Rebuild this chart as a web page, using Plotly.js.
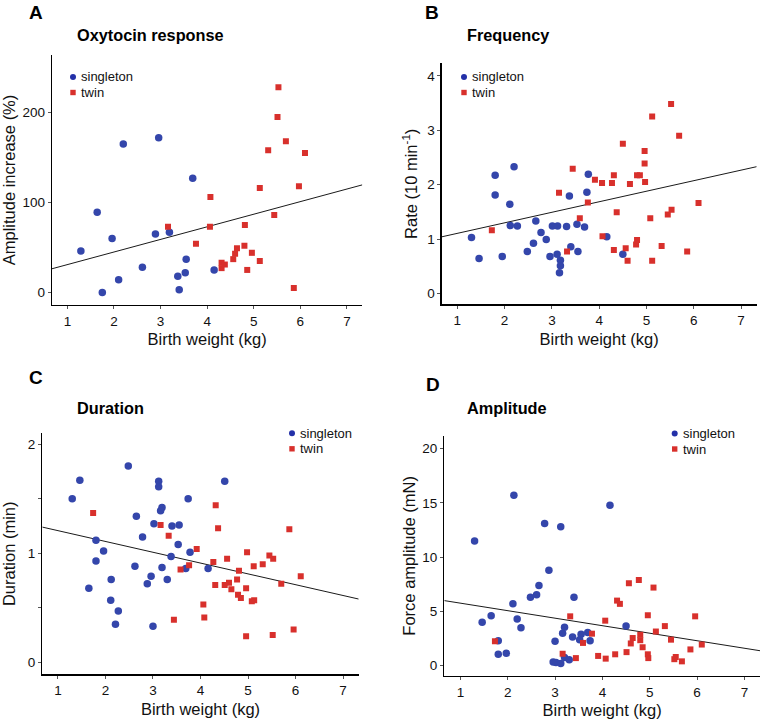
<!DOCTYPE html>
<html>
<head>
<meta charset="utf-8">
<script src="https://cdn.plot.ly/plotly-3.0.1.min.js"></script>
<style>html,body{margin:0;padding:0;background:#fff;}#chart{width:765px;height:725px;}</style>
</head>
<body>
<div id="chart"></div>
<script>
// ---------- DATA ----------
const panelLetters = ["A", "B", "C", "D"];
const panelTitles = ["Oxytocin response", "Frequency", "Duration", "Amplitude"];
const xAxisTitle = "Birth weight (kg)";
const yAxisTitles = ["Amplitude increase (%)", "Rate (10 min<sup>-1</sup>)", "Duration (min)", "Force amplitude (mN)"];
const groupNames = ["singleton", "twin"];
const xTickVals = [1, 2, 3, 4, 5, 6, 7];

// A: Oxytocin response
const aSingletonX = [1.29,1.64,1.75,1.96,2.10,2.20,2.61,2.89,2.96,3.19,3.37,3.40,3.53,3.55,3.69,4.15];
const aSingletonY = [46,89,0,60,14,165,28,65,172,67,18,3,22,37,127,25];
const aTwinX = [3.16,3.76,4.07,4.06,4.31,4.31,4.38,4.56,4.60,4.64,4.80,4.81,4.86,4.96,5.13,5.13,5.44,5.86,5.97,5.53,5.51,5.69,5.31,6.10];
const aTwinY = [73,54,106,73,33,27,31,37,43,49,52,75,25,44,116,35,86,5,118,228,195,168,158,155];
const aFitX = [0.67, 7.33];
const aFitY = [26.3, 119.6];
const aYTicks = [0, 100, 200];
const aYMinorTicks = [];

// B: Frequency
const bSingletonX = [1.30,1.46,1.80,1.80,1.95,2.11,2.12,2.20,2.27,2.48,2.61,2.66,2.77,2.88,2.96,3.01,3.12,3.11,3.18,3.18,3.16,3.31,3.37,3.40,3.53,3.55,3.69,3.74,3.77,4.16,4.50];
const bSingletonY = [1.03,0.64,2.17,1.81,0.68,1.64,1.25,2.33,1.24,0.77,0.92,1.33,1.12,0.99,0.68,1.24,1.24,0.72,0.61,0.51,0.38,1.23,1.79,0.86,1.27,0.77,1.22,1.86,2.19,1.04,0.72];
const bTwinX = [1.73,3.15,3.32,3.44,3.59,3.76,3.91,4.06,4.07,4.27,4.31,4.31,4.37,4.50,4.56,4.60,4.65,4.78,4.80,4.80,4.86,4.96,4.96,4.97,5.08,5.12,5.12,5.32,5.45,5.52,5.53,5.69,5.86,6.10];
const bTwinY = [1.16,1.85,0.77,2.29,1.38,1.67,2.09,2.03,1.05,2.03,2.17,0.80,1.49,2.75,0.83,0.60,2.01,0.90,0.98,2.17,2.17,2.62,2.39,2.05,1.38,0.60,3.25,0.87,1.45,3.48,1.54,2.90,0.77,1.66];
const bFitX = [0.67, 7.33];
const bFitY = [1.04, 2.33];
const bYTicks = [0, 1, 2, 3, 4];
const bYMinorTicks = [];

// C: Duration
const cSingletonX = [1.46,1.30,2.48,3.12,3.12,3.19,3.16,3.74,4.51,2.65,3.02,3.40,3.55,2.78,1.80,1.96,1.80,3.53,3.38,3.78,2.62,3.19,3.69,4.16,2.12,2.96,2.88,3.30,1.65,2.11,2.27,2.21,3.00];
const cSingletonY = [1.67,1.50,1.80,1.66,1.61,1.42,1.39,1.50,1.66,1.34,1.27,1.25,1.26,1.15,1.12,1.02,0.93,1.08,0.97,1.01,0.88,0.87,0.86,0.86,0.76,0.79,0.72,0.76,0.68,0.57,0.47,0.35,0.33];
const cTwinX = [1.74,4.32,3.16,3.33,4.37,5.87,3.92,4.98,5.45,5.53,4.56,4.27,3.76,5.12,5.31,3.58,4.81,6.11,4.77,4.31,4.51,4.60,5.70,4.65,4.96,4.79,4.85,5.08,5.13,4.06,4.08,3.44,4.96,5.52,5.96];
const cTwinY = [1.37,1.44,1.26,1.16,1.23,1.22,1.04,1.01,0.98,0.95,0.95,0.92,0.89,0.88,0.90,0.85,0.84,0.79,0.76,0.71,0.71,0.73,0.72,0.67,0.68,0.62,0.59,0.56,0.57,0.53,0.41,0.39,0.24,0.25,0.30];
const cFitX = [0.67, 7.33];
const cFitY = [1.24, 0.58];
const cYTicks = [0, 1, 2];
const cYMinorTicks = [0.5, 1.5];

// D: Amplitude
const dSingletonX = [2.13,4.16,2.78,3.12,1.30,2.87,2.66,2.61,2.48,3.40,2.11,1.65,1.46,2.20,2.28,4.50,3.20,3.16,3.37,3.55,3.69,3.52,3.74,1.80,3.00,1.80,1.97,2.96,3.02,3.12,3.20,3.30];
const dSingletonY = [15.7,14.8,13.1,12.8,11.5,8.8,7.4,6.55,6.3,6.3,5.7,4.6,4.0,4.3,3.5,3.65,3.55,3.0,2.65,2.9,3.05,2.4,2.3,2.3,2.25,1.05,1.15,0.35,0.3,0.2,0.75,0.55];
const dTwinX = [1.73,3.32,3.16,3.44,3.59,3.78,3.91,4.06,4.07,4.27,4.31,4.37,4.51,4.56,4.60,4.64,4.77,4.80,4.80,4.85,4.96,4.96,4.97,5.08,5.13,5.32,5.45,5.52,5.55,5.68,5.86,5.96,6.10];
const dTwinY = [2.25,4.55,1.1,0.7,2.1,2.95,0.9,4.15,0.65,1.05,6.0,5.7,1.25,7.6,2.05,2.55,7.9,2.85,2.35,1.7,4.65,1.05,0.7,7.2,3.15,3.65,2.4,0.6,0.8,0.4,1.5,4.55,1.95];
const dFitX = [0.66, 7.33];
const dFitY = [6.0, 1.38];
const dYTicks = [0, 5, 10, 15, 20];
const dYMinorTicks = [];

// ---------- LAYOUT / STYLE ----------
const W = 765, H = 725;
const FONT = "Liberation Sans, Arial, Helvetica, sans-serif";
const BLUE = "#3446ab";
const RED = "#d8302c";
const px2x = p => p / W;
const py2y = p => 1 - p / H;

const panels = [
  {sx: aSingletonX, sy: aSingletonY, tx: aTwinX, ty: aTwinY, fx: aFitX, fy: aFitY,
   yt: aYTicks, ym: aYMinorTicks, xr: [0.67, 7.33], yr: [-14, 264],
   box: [52, 362.3, 55, 305], ystand: 5,
   letter: [27, 13], title: [75, 35], leg: [73, 77, 81]},
  {sx: bSingletonX, sy: bSingletonY, tx: bTwinX, ty: bTwinY, fx: bFitX, fy: bFitY,
   yt: bYTicks, ym: bYMinorTicks, xr: [0.67, 7.33], yr: [-0.2, 4.23],
   box: [441.7, 756.7, 63.3, 304.3], ystand: 5,
   letter: [423, 13], title: [465.5, 35], leg: [464, 77, 472]},
  {sx: cSingletonX, sy: cSingletonY, tx: cTwinX, ty: cTwinY, fx: cFitX, fy: cFitY,
   yt: cYTicks, ym: cYMinorTicks, xr: [0.67, 7.33], yr: [-0.11, 2.10],
   box: [42.3, 358.7, 433.3, 674.3], ystand: 11,
   letter: [26.5, 378], title: [75, 407.5], leg: [292, 433.3, 300]},
  {sx: dSingletonX, sy: dSingletonY, tx: dTwinX, ty: dTwinY, fx: dFitX, fy: dFitY,
   yt: dYTicks, ym: dYMinorTicks, xr: [0.66, 7.33], yr: [-0.95, 21.2],
   box: [444.3, 760, 435.7, 676], ystand: 2,
   letter: [424, 384], title: [465.5, 408], leg: [674.7, 433.5, 682.7]}
];

const traces = [];
const layout = {
  width: W, height: H,
  margin: {l: 0, r: 0, t: 0, b: 0},
  paper_bgcolor: "#fff", plot_bgcolor: "#fff",
  showlegend: false,
  font: {family: FONT, color: "#111"},
  annotations: [], shapes: []
};

panels.forEach((p, i) => {
  const n = i === 0 ? "" : String(i + 1);
  const xa = "x" + n, ya = "y" + n;
  traces.push({x: p.fx, y: p.fy, xaxis: xa, yaxis: ya, mode: "lines", type: "scatter",
    line: {color: "#1a1a1a", width: 1}, hoverinfo: "skip"});
  traces.push({x: p.sx, y: p.sy, xaxis: xa, yaxis: ya, mode: "markers", type: "scatter",
    name: groupNames[0], marker: {symbol: "circle", size: 7.5, color: BLUE, line: {width: 0}}});
  traces.push({x: p.tx, y: p.ty, xaxis: xa, yaxis: ya, mode: "markers", type: "scatter",
    name: groupNames[1], marker: {symbol: "square", size: 6, color: RED, line: {width: 0}}});

  const [x0, x1, y0, y1] = p.box;
  const common = {
    showline: true, linecolor: "#000", linewidth: 1.3,
    ticks: "outside", ticklen: 3, tickwidth: 1, tickcolor: "#555",
    showgrid: false, zeroline: false, fixedrange: true,
    tickfont: {family: FONT, size: 13.5, color: "#111"}
  };
  layout["xaxis" + n] = Object.assign({}, common, {
    domain: [px2x(x0), px2x(x1)], anchor: ya, range: p.xr,
    tickmode: "array", tickvals: xTickVals,
    title: {text: xAxisTitle, font: {family: FONT, size: 16.5, color: "#111"}, standoff: 6}
  });
  const yax = Object.assign({}, common, {
    domain: [py2y(y1), py2y(y0)], anchor: xa, range: p.yr,
    tickmode: "array", tickvals: p.yt,
    title: {text: yAxisTitles[i], font: {family: FONT, size: 16.5, color: "#111"}, standoff: p.ystand}
  });
  if (p.ym.length) {
    yax.minor = {tickmode: "array", tickvals: p.ym, ticks: "outside", ticklen: 3, tickwidth: 1,
      tickcolor: "#555", showgrid: false};
  }
  layout["yaxis" + n] = yax;

  layout.annotations.push({text: "<b>" + panelLetters[i] + "</b>", xref: "paper", yref: "paper",
    x: px2x(p.letter[0]), y: py2y(p.letter[1]), xanchor: "left", yanchor: "middle",
    showarrow: false, font: {family: FONT, size: 19, color: "#000"}});
  layout.annotations.push({text: "<b>" + panelTitles[i] + "</b>", xref: "paper", yref: "paper",
    x: px2x(p.title[0]), y: py2y(p.title[1]), xanchor: "left", yanchor: "middle",
    showarrow: false, font: {family: FONT, size: 16.3, color: "#000"}});

  // legend
  const [mx, my, tx] = p.leg;
  const gap = 15.5;
  layout.shapes.push({type: "circle", xref: "paper", yref: "paper", xsizemode: "pixel", ysizemode: "pixel",
    xanchor: px2x(mx), yanchor: py2y(my), x0: -3, x1: 3, y0: -3, y1: 3,
    fillcolor: "#2330a8", line: {width: 0}});
  layout.shapes.push({type: "rect", xref: "paper", yref: "paper", xsizemode: "pixel", ysizemode: "pixel",
    xanchor: px2x(mx), yanchor: py2y(my + gap), x0: -2.7, x1: 2.7, y0: -2.7, y1: 2.7,
    fillcolor: RED, line: {width: 0}});
  groupNames.forEach((g, k) => {
    layout.annotations.push({text: g, xref: "paper", yref: "paper",
      x: px2x(tx - 2), y: py2y(my + k * gap), xanchor: "left", yanchor: "middle",
      showarrow: false, font: {family: FONT, size: 13, color: "#111"}});
  });
});

Plotly.newPlot("chart", traces, layout, {displayModeBar: false, staticPlot: true});
</script>
</body>
</html>
